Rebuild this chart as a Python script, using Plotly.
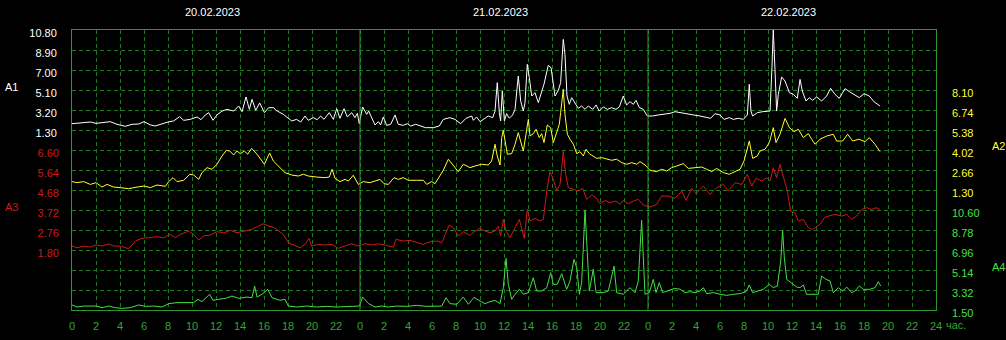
import plotly.graph_objects as go

# ---------------- data (hours from 20.02.2023 00:00) ----------------
dates = ["20.02.2023", "21.02.2023", "22.02.2023"]

a1_t = [0.0, 0.97, 1.53, 2.0, 2.64, 3.19, 3.75, 4.44, 5.0, 5.56, 6.0, 6.53, 6.94, 7.5, 8.0, 8.47, 8.97, 9.31,
        9.86, 10.42, 10.75, 11.11, 11.39, 11.75, 12.08, 12.5, 12.92, 13.47, 13.89, 14.17, 14.5, 14.78, 15.0,
        15.31, 15.64, 16.03, 16.39, 16.81, 17.0, 17.61, 18.31, 18.72, 19.06, 19.42, 19.69, 20.11, 20.44, 20.72,
        21.0, 21.44, 21.78, 22.06, 22.33, 22.67, 22.94, 23.31, 23.58, 23.78, 23.94, 24.22, 24.56, 24.72, 25.25,
        25.53, 25.72, 25.94, 26.22, 26.56, 26.92, 27.19, 27.61, 27.94, 28.22, 28.64, 29.06, 29.47, 30.11, 30.61,
        30.94, 31.5, 31.92, 32.39, 32.83, 33.31, 33.44, 33.72, 34.0, 34.42, 34.69, 35.06, 35.25, 35.44, 35.61,
        35.72, 35.86, 36.03, 36.22, 36.44, 36.72, 36.92, 37.19, 37.39, 37.61, 37.75, 37.94, 38.11, 38.31, 38.58,
        38.86, 39.33, 39.69, 39.92, 40.25, 40.53, 40.72, 40.94, 41.08, 41.25, 41.44, 41.64, 41.92, 42.19, 42.47,
        42.75, 43.03, 43.39, 43.67, 43.94, 44.28, 44.61, 44.97, 45.33, 45.61, 45.94, 46.22, 46.5, 46.78, 47.0,
        47.28, 47.61, 47.94, 48.39, 48.86, 49.42, 49.83, 50.25, 50.67, 51.22, 51.78, 52.33, 52.75, 53.22, 53.58,
        54.0, 54.33, 54.78, 55.11, 55.53, 55.94, 56.28, 56.44, 56.58, 56.72, 57.11, 57.56, 58.03, 58.17, 58.33,
        58.44, 58.58, 58.72, 58.86, 59.14, 59.42, 59.78, 60.11, 60.44, 60.67, 60.86, 61.17, 61.44, 61.72, 62.06,
        62.47, 62.89, 63.22, 63.58, 63.94, 64.42, 64.83, 65.17, 65.61, 66.0, 66.44, 66.83, 67.33]
a1_v = [1.90, 2.00, 2.06, 1.93, 2.00, 2.09, 1.84, 1.65, 1.84, 1.87, 2.09, 1.78, 1.68, 1.90, 2.06, 2.16, 2.57, 2.22,
        2.31, 2.54, 2.28, 2.73, 2.95, 2.22, 2.73, 3.10, 3.26, 3.10, 3.58, 3.04, 4.44, 3.26, 4.21,
        3.17, 3.87, 2.95, 3.42, 3.42, 3.17, 2.79, 2.16, 2.31, 2.06, 2.63, 2.22, 2.47, 2.28, 2.63,
        2.31, 2.95, 2.31, 3.33, 2.41, 3.33, 2.54, 2.95, 2.47, 2.88, 1.90, 3.49, 2.79, 3.10, 1.78,
        2.09, 1.78, 2.54, 1.74, 1.84, 2.73, 1.84, 1.74, 1.90, 1.68, 1.84, 1.65, 1.52, 1.52, 1.68,
        2.31, 2.47, 2.31, 1.90, 2.41, 2.63, 2.22, 2.54, 2.09, 2.41, 2.63, 2.47, 3.10, 5.80, 2.95,
        2.16, 5.00, 2.16, 2.85, 2.41, 2.73, 3.26, 6.43, 4.06, 3.10, 3.90, 7.54, 6.27, 4.53, 4.85,
        3.90, 5.64, 7.44, 7.22, 4.53, 5.07, 5.80, 9.91, 8.49, 4.53, 3.74, 4.37, 3.90, 3.36, 3.58,
        3.26, 3.58, 3.26, 3.68, 3.10, 3.49, 3.26, 3.42, 3.26, 3.49, 4.53, 3.68, 3.99, 3.74, 4.12,
        3.42, 3.26, 2.63, 2.63, 2.73, 2.79, 2.88, 3.04, 2.95, 2.79, 2.73, 2.63, 2.54, 2.41, 2.85,
        2.73, 2.31, 2.47, 2.31, 2.41, 2.31, 2.73, 5.64, 3.10, 2.63, 2.95, 3.04, 3.04, 3.10, 7.22,
        10.80, 7.06, 3.10, 4.69, 6.34, 5.95, 4.85, 4.69, 4.31, 6.11, 5.00, 4.05, 4.37, 4.12, 4.44,
        4.05, 4.53, 5.26, 4.69, 4.31, 5.23, 4.91, 4.69, 4.37, 4.75, 4.53, 3.99, 3.58]

a2_t = [0.0, 0.42, 0.97, 1.53, 2.0, 2.5, 2.92, 3.47, 4.03, 4.72, 5.42, 6.0, 6.53, 7.08, 7.78, 8.06, 8.42, 8.75,
        9.31, 9.81, 10.14, 10.56, 10.83, 11.25, 11.67, 12.08, 12.5, 12.86, 13.14, 13.47, 13.75, 14.03, 14.36,
        14.64, 14.97, 15.42, 16.03, 16.47, 16.78, 17.19, 17.75, 18.31, 18.86, 19.28, 19.69, 20.39, 21.08, 21.44,
        21.67, 21.92, 22.33, 22.75, 23.03, 23.44, 23.86, 24.28, 24.83, 25.25, 25.67, 26.0, 26.36, 26.83, 27.19,
        27.61, 28.03, 28.72, 29.28, 29.56, 29.97, 30.25, 30.53, 30.94, 31.36, 31.78, 32.19, 32.61, 33.17, 33.58,
        34.14, 34.69, 34.97, 35.25, 35.44, 35.67, 35.81, 35.94, 36.08, 36.28, 36.64, 36.92, 37.19, 37.39, 37.61,
        37.83, 38.03, 38.17, 38.44, 38.67, 38.94, 39.14, 39.33, 39.61, 39.89, 40.11, 40.33, 40.61, 40.72, 40.94,
        41.08, 41.28, 41.5, 41.78, 42.06, 42.33, 42.61, 42.83, 43.11, 43.44, 43.72, 44.14, 44.56, 44.97, 45.39,
        45.81, 46.22, 46.64, 47.06, 47.33, 47.75, 48.17, 48.72, 49.14, 49.56, 49.97, 50.39, 50.94, 51.36, 51.92,
        52.47, 52.89, 53.31, 53.72, 54.28, 54.78, 55.25, 55.67, 56.0, 56.44, 56.72, 57.11, 57.33, 57.75, 58.11,
        58.44, 58.67, 59.0, 59.42, 59.78, 60.17, 60.53, 60.94, 61.36, 61.64, 61.92, 62.33, 62.89, 63.44, 63.72,
        64.22, 64.64, 65.06, 65.56, 66.08, 66.44, 66.92, 67.33]
a2_v = [1.87, 1.80, 1.87, 1.68, 1.80, 1.50, 1.68, 1.50, 1.46, 1.39, 1.50, 1.57, 1.46, 1.64, 1.55, 1.87, 2.14, 1.87,
        1.96, 2.37, 2.32, 2.02, 2.48, 2.82, 2.71, 3.05, 3.61, 4.00, 3.95, 3.68, 3.95, 3.77, 3.95,
        3.73, 4.13, 3.73, 3.05, 3.82, 3.27, 2.93, 2.48, 2.32, 2.25, 2.37, 2.25, 2.18, 2.14, 2.18,
        2.71, 2.09, 1.87, 2.02, 1.91, 2.30, 1.68, 1.87, 1.80, 1.91, 2.02, 1.73, 1.68, 2.14, 2.02,
        2.14, 1.96, 1.96, 1.96, 1.68, 1.87, 1.73, 2.14, 2.64, 3.39, 3.00, 2.55, 3.05, 2.82, 2.93,
        3.05, 3.00, 3.27, 4.41, 3.61, 3.00, 4.86, 5.36, 4.63, 3.73, 3.77, 4.41, 5.20, 4.63, 3.95,
        5.09, 6.11, 4.97, 5.13, 5.43, 4.86, 5.13, 4.52, 5.72, 5.54, 4.52, 5.09, 5.77, 6.56, 8.15,
        6.45, 5.09, 4.75, 4.41, 3.77, 3.91, 3.61, 4.07, 3.77, 3.61, 3.45, 3.50, 3.39, 3.32, 3.39,
        3.16, 3.05, 3.16, 3.05, 3.23, 3.00, 2.64, 2.55, 2.71, 2.59, 2.82, 2.93, 3.09, 2.77, 2.82,
        2.86, 2.71, 2.55, 2.77, 2.48, 2.37, 2.55, 2.71, 3.27, 4.63, 3.45, 3.61, 3.95, 4.07, 4.52,
        5.54, 4.52, 5.09, 6.17, 5.54, 5.27, 5.43, 4.86, 5.13, 4.75, 4.41, 4.75, 4.97, 5.09, 4.63,
        4.63, 5.09, 4.63, 4.75, 4.59, 4.86, 4.41, 3.91]

a3_t = [0.0, 0.42, 0.97, 1.53, 2.0, 2.5, 3.06, 3.47, 4.03, 4.72, 5.28, 5.83, 6.39, 7.08, 7.64, 8.19, 8.61, 9.03,
        9.72, 10.14, 10.56, 10.97, 11.53, 12.08, 12.64, 13.19, 13.75, 14.31, 15.0, 15.56, 15.92, 16.39, 16.86,
        17.06, 17.61, 18.03, 18.44, 19.0, 19.42, 19.75, 19.97, 20.53, 21.08, 21.64, 22.19, 22.75, 23.31, 23.86,
        24.42, 24.97, 25.53, 26.08, 26.78, 27.0, 27.61, 28.17, 28.72, 29.28, 29.83, 30.39, 30.81, 31.08, 31.44,
        31.78, 32.19, 32.61, 33.17, 33.58, 34.0, 34.42, 34.83, 35.25, 35.53, 35.72, 35.94, 36.17, 36.5, 36.92,
        37.28, 37.56, 37.69, 37.94, 38.17, 38.58, 39.0, 39.28, 39.56, 39.83, 40.11, 40.39, 40.67, 40.94, 41.14,
        41.36, 41.78, 42.19, 42.56, 42.89, 43.31, 43.67, 44.0, 44.42, 44.83, 45.33, 45.67, 45.94, 46.36, 46.78,
        47.19, 47.61, 48.17, 48.72, 49.14, 49.69, 50.25, 50.81, 51.17, 51.64, 52.0, 52.61, 53.17, 53.72, 54.28,
        54.69, 55.25, 55.81, 56.28, 56.64, 57.0, 57.47, 57.89, 58.17, 58.44, 58.72, 59.0, 59.28, 59.61, 59.89,
        60.25, 60.53, 60.94, 61.36, 61.72, 62.0, 62.33, 62.75, 63.17, 63.58, 64.14, 64.56, 64.97, 65.39, 65.81,
        66.22, 66.64, 67.0, 67.33]
a3_v = [1.99, 1.91, 1.99, 1.94, 2.04, 1.99, 2.10, 1.99, 1.99, 1.86, 2.23, 2.36, 2.39, 2.44, 2.39, 2.55, 2.39, 2.55,
        2.71, 2.55, 2.28, 2.47, 2.52, 2.68, 2.63, 2.74, 2.63, 2.71, 2.79, 2.95, 3.06, 2.95, 2.87,
        2.79, 2.55, 2.15, 2.04, 1.91, 2.07, 2.36, 1.99, 2.07, 2.04, 2.07, 1.88, 1.99, 2.10, 1.99,
        2.10, 2.04, 2.10, 2.04, 1.94, 2.31, 2.23, 2.26, 2.15, 2.07, 2.20, 2.23, 2.15, 2.55, 3.00,
        2.87, 2.47, 2.68, 2.50, 2.70, 2.84, 2.71, 2.63, 2.71, 2.95, 2.47, 3.27, 2.71, 2.39, 2.87,
        3.27, 2.63, 2.36, 3.75, 3.19, 3.32, 3.19, 3.27, 4.63, 5.56, 5.19, 4.66, 4.95, 6.55, 5.43,
        4.79, 4.71, 4.63, 4.76, 4.23, 4.44, 4.31, 4.02, 4.18, 4.07, 4.15, 3.99, 4.18, 4.02, 4.15,
        4.23, 3.96, 3.86, 3.99, 4.39, 4.39, 4.28, 4.63, 4.18, 4.76, 4.50, 4.87, 4.47, 4.79, 4.95,
        4.63, 5.03, 4.95, 5.43, 4.87, 5.24, 5.11, 5.27, 5.11, 5.75, 5.27, 5.91, 5.35, 4.63, 3.67,
        3.59, 3.19, 3.27, 2.87, 2.79, 2.90, 3.03, 3.38, 3.43, 3.51, 3.43, 3.51, 3.27, 3.43, 3.75,
        3.83, 3.75, 3.83, 3.75]

a4_t = [0.0, 0.42, 0.97, 1.53, 2.0, 2.5, 3.06, 3.61, 4.17, 4.86, 5.56, 6.11, 6.81, 7.5, 8.06, 8.75, 9.44, 10.14,
        10.5, 10.83, 11.47, 11.75, 12.22, 12.78, 13.33, 13.89, 14.58, 15.0, 15.22, 15.42, 15.83, 16.31, 16.67,
        17.33, 17.75, 18.03, 18.72, 19.56, 20.39, 21.22, 22.06, 22.89, 23.58, 23.94, 24.22, 24.72, 25.25, 25.81,
        26.36, 27.06, 27.89, 28.72, 29.56, 30.25, 30.81, 31.17, 31.5, 32.06, 32.61, 33.03, 33.5, 34.0, 34.42,
        34.83, 35.25, 35.67, 35.94, 36.17, 36.36, 36.64, 36.92, 37.28, 37.61, 38.03, 38.44, 38.72, 39.14, 39.56,
        39.89, 40.11, 40.44, 40.81, 41.22, 41.5, 41.83, 42.06, 42.28, 42.47, 42.75, 42.89, 43.11, 43.44, 43.67,
        44.28, 44.69, 45.17, 45.39, 45.94, 46.5, 46.92, 47.19, 47.47, 47.75, 48.11, 48.44, 48.67, 48.94, 49.22,
        49.69, 50.17, 50.67, 51.08, 51.5, 51.92, 52.33, 52.61, 52.89, 53.44, 54.0, 54.56, 55.11, 55.67, 56.17,
        56.44, 56.72, 57.19, 57.61, 58.11, 58.44, 58.78, 59.06, 59.22, 59.36, 59.56, 59.97, 60.39, 60.67, 60.94,
        61.22, 61.64, 62.19, 62.47, 62.83, 63.17, 63.44, 63.86, 64.22, 64.56, 64.97, 65.25, 65.61, 65.94, 66.44,
        66.92, 67.19, 67.39]
a4_v = [1.96, 1.77, 1.86, 1.83, 1.86, 1.71, 1.86, 1.71, 1.65, 1.71, 1.96, 1.83, 1.86, 1.77, 2.08, 2.17, 2.17, 2.17,
        2.47, 2.26, 2.93, 2.38, 2.47, 2.56, 2.77, 2.56, 2.68, 2.62, 3.68, 2.68, 2.93, 3.38, 2.62,
        2.38, 2.47, 1.86, 1.77, 1.86, 1.77, 1.83, 1.77, 1.83, 1.89, 1.86, 2.68, 2.08, 1.77, 1.86,
        1.77, 1.86, 1.83, 1.92, 1.83, 1.86, 1.86, 2.62, 2.08, 2.02, 2.68, 2.02, 2.65, 2.32, 2.08,
        2.26, 2.38, 2.08, 3.53, 6.20, 3.84, 2.47, 2.93, 3.38, 2.93, 3.08, 4.44, 3.23, 3.23, 3.53,
        4.90, 3.84, 3.84, 4.81, 3.38, 4.14, 6.11, 5.35, 2.93, 3.99, 10.57, 7.78, 3.23, 5.20, 3.08,
        3.08, 3.23, 5.50, 3.08, 2.93, 3.53, 3.08, 4.14, 9.66, 2.93, 3.08, 4.29, 3.08, 3.99, 3.08,
        3.23, 3.45, 3.40, 3.08, 3.17, 3.08, 3.23, 3.53, 2.99, 3.08, 2.93, 2.83, 2.93, 2.99, 3.17,
        3.78, 3.08, 3.23, 3.38, 3.84, 3.53, 3.68, 5.96, 8.75, 6.26, 4.29, 3.90, 3.59, 3.53, 3.78,
        2.93, 2.93, 2.93, 4.59, 4.29, 4.14, 3.08, 3.53, 3.23, 3.59, 3.08, 3.23, 3.68, 3.38, 3.38,
        3.53, 4.08, 3.68]

# axis tick labels (values)
a1_ticks = [1.30, 3.20, 5.10, 7.00, 8.90, 10.80]
a2_ticks = [1.30, 2.66, 4.02, 5.38, 6.74, 8.10]
a3_ticks = [1.80, 2.76, 3.72, 4.68, 5.64, 6.60]
a4_ticks = [1.50, 3.32, 5.14, 6.96, 8.78, 10.60]
hour_ticks = list(range(0, 73, 2))
hour_labels = [str(h % 24) if h < 72 else "24" for h in hour_ticks]

# ---------------- style ----------------
FONT = "Liberation Sans, Arial, sans-serif"
C_WHITE = "#ffffff"
C_YELLOW = "#ffff33"
C_RED = "#d01818"
C_GREEN = "#44e044"
C_GRID = "#1e7a1e"
C_FRAME = "#2f962f"
C_XTICK = "#2fa82f"
DASH = "4px,3px"

fig = go.Figure()
fig.add_trace(go.Scatter(x=a1_t, y=a1_v, mode="lines", line=dict(color=C_WHITE, width=1), yaxis="y", name="A1"))
fig.add_trace(go.Scatter(x=a2_t, y=a2_v, mode="lines", line=dict(color=C_YELLOW, width=1), yaxis="y2", name="A2"))
fig.add_trace(go.Scatter(x=a3_t, y=a3_v, mode="lines", line=dict(color=C_RED, width=1), yaxis="y3", name="A3"))
fig.add_trace(go.Scatter(x=a4_t, y=a4_v, mode="lines", line=dict(color=C_GREEN, width=1), yaxis="y4", name="A4"))


def fmt(vals):
    return ["%.2f" % v for v in vals]


common_y = dict(ticks="", zeroline=False, automargin=False, fixedrange=True, ticklabelshift=3)

fig.update_layout(
    template="none",
    width=1006, height=340,
    margin=dict(l=72, r=70, t=30, b=30, pad=0),
    paper_bgcolor="black", plot_bgcolor="black",
    showlegend=False,
    font=dict(family=FONT, size=11, color=C_WHITE),
    xaxis=dict(range=[0, 72], tickmode="array", tickvals=hour_ticks, ticktext=hour_labels,
               tickfont=dict(color=C_XTICK, size=11, family=FONT), ticks="", ticklabelstandoff=6,
               showgrid=True, gridcolor=C_GRID, griddash=DASH, gridwidth=1,
               showline=True, linecolor=C_FRAME, linewidth=1, mirror=True,
               zeroline=False, automargin=False, fixedrange=True),
    yaxis=dict(range=[-15.8, 10.8], tickmode="array", tickvals=a1_ticks, ticktext=fmt(a1_ticks),
               tickfont=dict(color=C_WHITE, size=11, family=FONT), side="left", ticklabelstandoff=12,
               showgrid=True, gridcolor=C_GRID, griddash=DASH, gridwidth=1,
               minor=dict(tickmode="linear", tick0=10.8, dtick=1.9, showgrid=True, gridcolor=C_GRID,
                          griddash=DASH, gridwidth=1, ticks=""),
               showline=True, linecolor=C_FRAME, linewidth=1, mirror=True, **common_y),
    yaxis2=dict(range=[-6.86, 12.18], tickmode="array", tickvals=a2_ticks, ticktext=fmt(a2_ticks),
                tickfont=dict(color=C_YELLOW, size=11, family=FONT), side="right", overlaying="y",
                anchor="x", showgrid=False, showline=False, ticklabelstandoff=15, **common_y),
    yaxis3=dict(range=[-1.08, 12.36], tickmode="array", tickvals=a3_ticks, ticktext=fmt(a3_ticks),
                tickfont=dict(color=C_RED, size=11, family=FONT), side="left", overlaying="y",
                anchor="x", showgrid=False, showline=False, ticklabelstandoff=12, **common_y),
    yaxis4=dict(range=[1.50, 26.98], tickmode="array", tickvals=a4_ticks, ticktext=fmt(a4_ticks),
                tickfont=dict(color=C_GREEN, size=11, family=FONT), side="right", overlaying="y",
                anchor="x", showgrid=False, showline=False, ticklabelstandoff=15, **common_y),
)

# solid day-boundary lines
for i in range(1, len(dates)):
    fig.add_shape(type="line", xref="x", yref="paper", x0=24 * i, x1=24 * i, y0=0, y1=1,
                  line=dict(color=C_FRAME, width=1))

# date captions above each day
for i, d in enumerate(dates):
    fig.add_annotation(text=d, xref="x", yref="paper", x=24 * i + 11.67, y=1.064, showarrow=False,
                       font=dict(color=C_WHITE, size=11, family=FONT), xanchor="center", yanchor="middle")

# axis names
axis_names = [("A1", -0.0706, 0.796, C_WHITE), ("A3", -0.0695, 0.368, C_RED),
              ("A2", 1.0718, 0.586, C_YELLOW), ("A4", 1.0718, 0.154, C_GREEN)]
for txt, px, py, col in axis_names:
    fig.add_annotation(text=txt, xref="paper", yref="paper", x=px, y=py, showarrow=False,
                       font=dict(color=col, size=11, family=FONT), xanchor="center", yanchor="middle")

fig.add_annotation(text="час.", xref="paper", yref="paper", x=1.0095, y=-0.054, showarrow=False,
                   font=dict(color=C_XTICK, size=11, family=FONT), xanchor="left", yanchor="middle")

fig.write_html("out.html", config={"displayModeBar": False})
